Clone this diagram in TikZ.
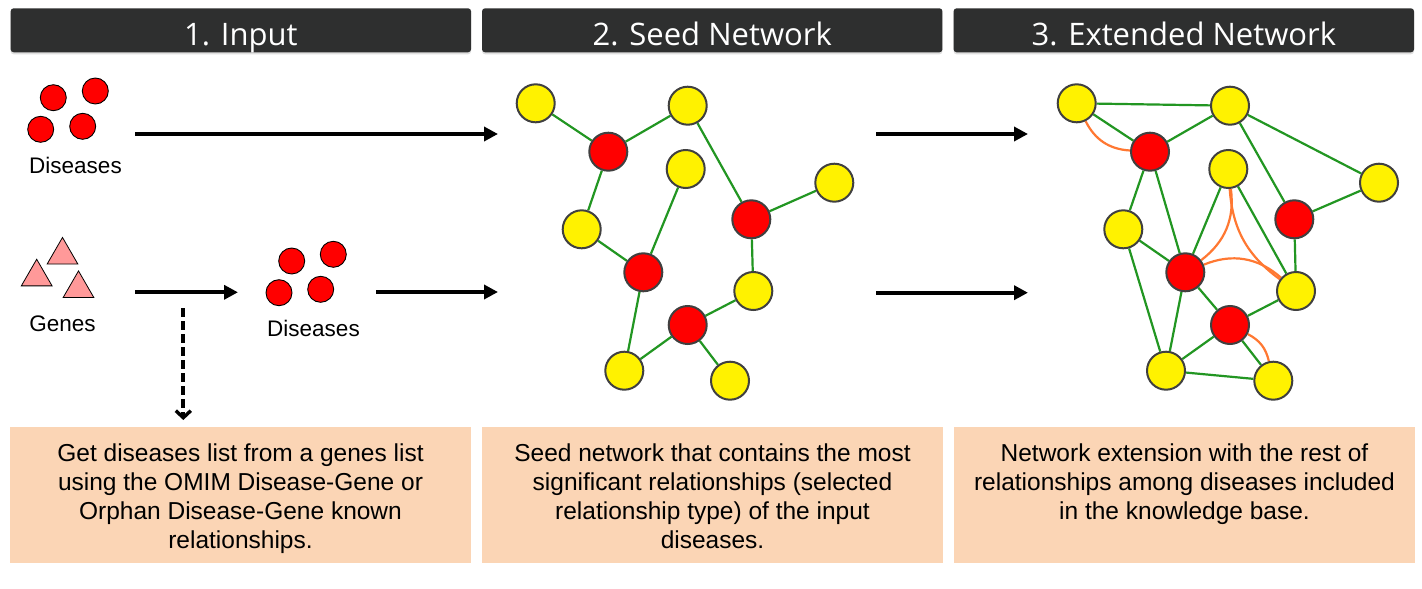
\documentclass[tikz,border=0pt]{standalone}
\usepackage{fontspec}
\setmainfont{Liberation Sans}
\newfontfamily\headfont{Open Sans}
\usetikzlibrary{arrows.meta,shapes.geometric,shadows,backgrounds}
\definecolor{hdrgray}{RGB}{46,47,47}
\definecolor{peach}{RGB}{251,213,181}
\definecolor{edgegreen}{RGB}{34,150,34}
\definecolor{edgeorange}{RGB}{255,120,50}
\definecolor{nodeborder}{RGB}{64,64,64}
\definecolor{genepink}{RGB}{255,153,153}
\begin{document}
\begin{tikzpicture}[x=1pt,y=-1pt,
  hdr/.style={rectangle, rounded corners=3pt, fill=hdrgray, text=white, inner sep=0pt,
    minimum width=460.4pt, minimum height=44pt, text height=31pt, text depth=0pt,
    font=\headfont\fontsize{31}{36}\selectfont,
    drop shadow={shadow xshift=0pt, shadow yshift=-2pt, opacity=0.25}},
  btm/.style={rectangle, fill=peach, draw=none, minimum width=461pt, minimum height=136pt, inner sep=0pt},
  btxt/.style={align=center, inner sep=0pt, font=\fontsize{24.5}{29}\selectfont},
  lbl/.style={inner sep=0pt, font=\fontsize{22.5}{26}\selectfont},
  dis/.style={circle, fill=red, draw=black, line width=0.9pt, minimum size=26pt, inner sep=0pt},
  gene/.style={regular polygon, regular polygon sides=3, fill=genepink, draw=black, line width=0.8pt, minimum size=35.5pt, inner sep=0pt},
  ynode/.style={circle, fill=yellow, draw=nodeborder, line width=2pt, minimum size=38pt, inner sep=0pt},
  rnode/.style={circle, fill=red, draw=nodeborder, line width=2pt, minimum size=38pt, inner sep=0pt},
  gedge/.style={draw=edgegreen, line width=2.2pt},
  oedge/.style={draw=edgeorange, line width=2.2pt},
  bigarrow/.style={line width=4pt, -{Triangle[length=14pt,width=14pt]}},
  dasharrow/.style={line width=4pt, dash pattern=on 9pt off 4pt, -{Straight Barb[length=7pt,width=15pt,line width=3.4pt]}}
]
\useasboundingbox (0,0) rectangle (1422,589);
\begin{pgfonlayer}{background}
\fill[white] (0,0) rectangle (1422,589);
\end{pgfonlayer}

% headers
\node[hdr] (h1) at (240.85,30.3) {1. Input};
\node[hdr] (h2) at (712.25,30.3) {2. Seed Network};
\node[hdr] (h3) at (1183.8,30.3) {3. Extended Network};

% bottom boxes
\node[btm] (b1) at (240.5,495) {};
\node[btm] (b2) at (712.5,495) {};
\node[btm] (b3) at (1184.5,495) {};
\node[btxt, anchor=north] (t1) at (240.5,443.5) {Get diseases list from a genes list\\using the OMIM Disease-Gene or\\Orphan Disease-Gene known\\relationships.};
\node[btxt, anchor=north] (t2) at (712.5,443.5) {Seed network that contains the most\\significant relationships (selected\\relationship type) of the input\\diseases.};
\node[btxt, anchor=north] (t3) at (1184.5,443.5) {Network extension with the rest of\\relationships among diseases included\\in the knowledge base.};

% input: diseases
\node[dis] (d1) at (53.3,97.7) {};
\node[dis] (d2) at (95.3,91) {};
\node[dis] (d3) at (40.7,129.3) {};
\node[dis] (d4) at (82.7,126.3) {};
\node[lbl, anchor=base] (dl1) at (75.5,173) {Diseases};

% input: genes
\node[gene] (g1) at (62.5,255.2) {};
\node[gene] (g2) at (36.7,277) {};
\node[gene] (g3) at (78.5,288.7) {};
\node[lbl, anchor=base] (gl) at (62.5,331.5) {Genes};

% derived diseases
\node[dis] (e1) at (291.7,261) {};
\node[dis] (e2) at (333.3,254.3) {};
\node[dis] (e3) at (279,292.7) {};
\node[dis] (e4) at (320.7,289.3) {};
\node[lbl, anchor=base] (dl2) at (313.5,336.5) {Diseases};

% arrow coordinates
\coordinate (a1s) at (135,134);
\coordinate (a1e) at (498,134);
\coordinate (a2s) at (135,292.3);
\coordinate (a2e) at (238,292.3);
\coordinate (a3s) at (376,292);
\coordinate (a3e) at (498,292);
\coordinate (a4s) at (876,134);
\coordinate (a4e) at (1028,134);
\coordinate (a5s) at (876,292.7);
\coordinate (a5e) at (1028,292.7);
\coordinate (dss) at (183.3,308);
\coordinate (dse) at (183.3,420);

\draw[bigarrow] (a1s) -- (a1e);
\draw[bigarrow] (a2s) -- (a2e);
\draw[bigarrow] (a3s) -- (a3e);
\draw[bigarrow] (a4s) -- (a4e);
\draw[bigarrow] (a5s) -- (a5e);
\draw[dasharrow] (dss) -- (dse);

% seed network
\node[ynode] (sy1) at (535.7,103.3) {};
\node[ynode] (sy2) at (687.7,105.7) {};
\node[rnode] (sr1) at (608.3,151.7) {};
\node[ynode] (sy3) at (685.7,169) {};
\node[ynode] (sy4) at (834.3,182.7) {};
\node[rnode] (sr2) at (751.3,219.3) {};
\node[ynode] (sy5) at (581.7,229.3) {};
\node[rnode] (sr3) at (643.3,272.3) {};
\node[ynode] (sy6) at (753.3,291) {};
\node[rnode] (sr4) at (687.7,325) {};
\node[ynode] (sy7) at (624.3,370.7) {};
\node[ynode] (sy8) at (730,380.7) {};
\begin{scope}[on background layer]
\draw[gedge] (sy1) -- (sr1);
\draw[gedge] (sr1) -- (sy2);
\draw[gedge] (sy2) -- (sr2);
\draw[gedge] (sr1) -- (sy5);
\draw[gedge] (sy5) -- (sr3);
\draw[gedge] (sr3) -- (sy3);
\draw[gedge] (sr2) -- (sy4);
\draw[gedge] (sr2) -- (sy6);
\draw[gedge] (sy6) -- (sr4);
\draw[gedge] (sr3) -- (sy7);
\draw[gedge] (sr4) -- (sy7);
\draw[gedge] (sr4) -- (sy8);
\end{scope}

% extended network
\node[ynode] (xy1) at (1076.7,103.3) {};
\node[ynode] (xy2) at (1230,105.7) {};
\node[rnode] (xr1) at (1150,151.7) {};
\node[ynode] (xy3) at (1228.3,169) {};
\node[ynode] (xy4) at (1379,182.7) {};
\node[rnode] (xr2) at (1294.3,219.3) {};
\node[ynode] (xy5) at (1123.3,229.3) {};
\node[rnode] (xr3) at (1185.3,272.3) {};
\node[ynode] (xy6) at (1296,291) {};
\node[rnode] (xr4) at (1230,325) {};
\node[ynode] (xy7) at (1166,370.7) {};
\node[ynode] (xy8) at (1273.3,380.7) {};
\begin{scope}[on background layer]
\draw[gedge] (xy1) -- (xy2);
\draw[gedge] (xy1) -- (xr1);
\draw[gedge] (xr1) -- (xy2);
\draw[gedge] (xy2) -- (xr2);
\draw[gedge] (xy2) -- (xy4);
\draw[gedge] (xr2) -- (xy4);
\draw[gedge] (xr2) -- (xy6);
\draw[gedge] (xr1) -- (xy5);
\draw[gedge] (xr1) -- (xr3);
\draw[gedge] (xy5) -- (xr3);
\draw[gedge] (xy5) -- (xy7);
\draw[gedge] (xr3) -- (xy3);
\draw[gedge] (xy3) -- (xy6);
\draw[gedge] (xr3) -- (xr4);
\draw[gedge] (xr3) -- (xy7);
\draw[gedge] (xr4) -- (xy6);
\draw[gedge] (xr4) -- (xy7);
\draw[gedge] (xr4) -- (xy8);
\draw[gedge] (xy7) -- (xy8);
\draw[oedge] (xy1) to[bend right=30] (xr1);
\draw[oedge] (xy3) to[bend left=30] (xr3);
\draw[oedge] (xy3) to[bend right=25] (xy6);
\draw[oedge] (xr3) to[bend left=32] (xy6);
\draw[oedge] (xr4) to[bend left=25] (xy8);
\end{scope}
\end{tikzpicture}
\end{document}
